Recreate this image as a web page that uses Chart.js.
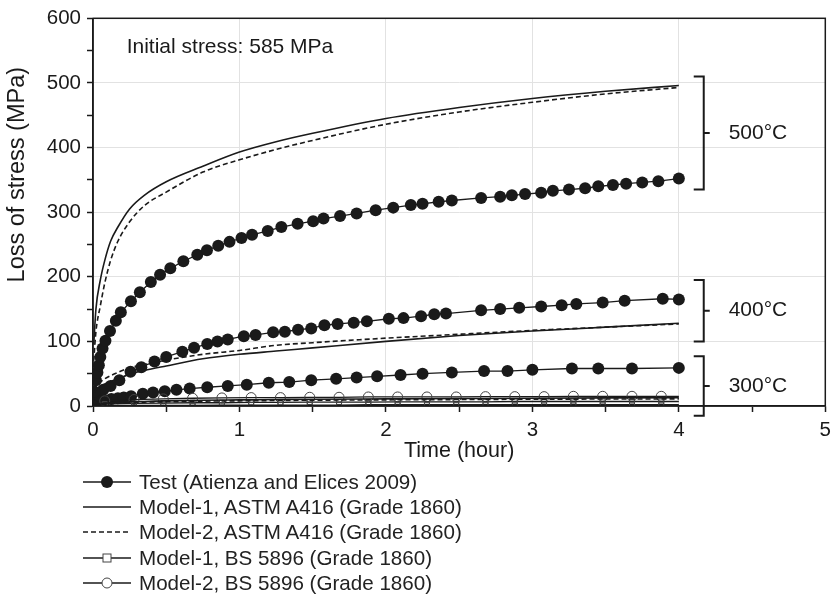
<!DOCTYPE html>
<html>
<head>
<meta charset="utf-8">
<script src="https://cdn.jsdelivr.net/npm/chart.js@4.4.1/dist/chart.umd.min.js"></script>
<style>
  body { margin: 0; background: #fff; font-family: "Liberation Sans", Arial, sans-serif; }
  #wrap { position: relative; width: 837px; height: 601px; }
  #legend { position: absolute; left: 83px; top: 469px; color: #222; font-size: 20.6px; }
  .legend-item { height: 25.4px; display: flex; align-items: center; white-space: nowrap; }
  .legend-item svg { margin-right: 8px; }
</style>
</head>
<body>
<div id="wrap">
  <canvas id="stressChart" width="837" height="601"></canvas>
  <div id="legend"></div>
</div>
<script>
  // Test data (Atienza and Elices 2009)
  var test500Time = [0, 0.01, 0.02, 0.03, 0.04, 0.05, 0.065, 0.085, 0.116, 0.156, 0.19, 0.259, 0.32, 0.395, 0.458, 0.528, 0.617, 0.712, 0.778, 0.855, 0.932, 1.014, 1.086, 1.193, 1.286, 1.397, 1.503, 1.574, 1.687, 1.8, 1.93, 2.05, 2.17, 2.25, 2.36, 2.45, 2.65, 2.78, 2.86, 2.95, 3.06, 3.14, 3.25, 3.36, 3.45, 3.55, 3.64, 3.75, 3.86, 4.0];
  var test500Loss = [0, 22, 40, 52, 63, 76, 89, 101, 116, 132, 145, 162, 176, 192, 203, 213, 224, 234, 241, 248, 254, 260, 265, 271, 277, 282, 286, 290, 294, 298, 303, 307, 311, 313, 316, 318, 322, 324, 326, 328, 330, 333, 335, 337, 340, 342, 344, 346, 348, 352];
  var test400Time = [0, 0.03, 0.07, 0.12, 0.18, 0.256, 0.33, 0.42, 0.5, 0.61, 0.69, 0.78, 0.85, 0.92, 1.03, 1.11, 1.23, 1.31, 1.4, 1.49, 1.58, 1.67, 1.78, 1.87, 2.02, 2.12, 2.24, 2.33, 2.41, 2.65, 2.78, 2.91, 3.06, 3.2, 3.3, 3.48, 3.63, 3.89, 4.0];
  var test400Loss = [0, 18, 25, 31, 40, 53, 60, 69, 76, 84, 90, 96, 100, 103, 108, 110, 114, 115, 118, 120, 125, 127, 129, 131, 135, 136, 139, 142, 143, 148, 150, 152, 154, 156, 158, 160, 163, 166, 165];
  var test300Time = [0, 0.02, 0.05, 0.08, 0.125, 0.17, 0.21, 0.26, 0.34, 0.41, 0.49, 0.57, 0.66, 0.78, 0.92, 1.05, 1.2, 1.34, 1.49, 1.66, 1.8, 1.94, 2.1, 2.25, 2.45, 2.67, 2.83, 3.0, 3.27, 3.45, 3.68, 4.0];
  var test300Loss = [0, 4, 7, 9, 11, 12, 13, 15, 19, 21, 23, 25, 27, 29, 31, 33, 36, 37, 40, 42, 44, 46, 48, 50, 52, 54, 54, 56, 58, 58, 58, 59];

  // ASTM A416 model curves
  var modelTime = [0.005, 0.02, 0.05, 0.08, 0.12, 0.17, 0.25, 0.35, 0.5, 0.75, 1, 1.25, 1.5, 2, 2.5, 3, 3.5, 4];
  var astm1_500 = [95, 150, 195, 225, 255, 277, 305, 326, 347, 371, 393, 409, 422, 445, 462, 476, 487, 496];
  var astm2_500 = [70, 115, 155, 190, 225, 255, 285, 310, 331, 362, 381, 397, 411, 436, 455, 470, 483, 493];
  var astm1_400 = [20, 25, 30, 34, 38, 42, 49, 55, 62, 73, 80, 85, 90, 100, 109, 116, 122, 128];
  var astm2_400 = [25, 30, 37, 42, 47, 52, 59, 64, 71, 80, 86, 94, 98, 105, 111, 117, 122, 127];
  var astm1_300 = [1, 2, 3, 4, 5, 5.5, 6.5, 7, 8, 9, 9.5, 10, 10.5, 11, 11.5, 12, 12.5, 13];
  var astm2_300 = [1, 2, 2.5, 3, 4, 4.5, 5, 6, 6.5, 7.5, 8, 8.5, 9, 9.5, 10, 10.5, 10.8, 11];

  // BS 5896 model curves
  var bsTime = [0.08, 0.28, 0.48, 0.68, 0.88, 1.08, 1.28, 1.48, 1.68, 1.88, 2.08, 2.28, 2.48, 2.68, 2.88, 3.08, 3.28, 3.48, 3.68, 3.88, 4.0];
  var bs1_300 = [3, 4, 4.5, 5, 5, 5.5, 5.5, 6, 6, 6, 6.5, 6.5, 6.5, 6.5, 7, 7, 7, 7, 7, 7, 7];
  var bs2_300 = [8, 10, 11, 12, 12.5, 13, 13, 13.5, 13.5, 14, 14, 14, 14, 14.5, 14.5, 14.5, 15, 15, 15, 15, 15];
  var bs1_low = [0.5, 1, 1, 1, 1.5, 1.5, 1.5, 1.5, 1.5, 2, 2, 2, 2, 2, 2, 2, 2, 2, 2, 2, 2];

  var temperatureLabels = ['500°C', '400°C', '300°C'];
  var bracketTop = [510, 195, 77];
  var bracketBottom = [335, 100, -15];

  function pairs(xs, ys) {
    return xs.map(function (x, i) { return { x: x, y: ys[i] }; });
  }

  var ink = '#1a1a1a';
  var fontFamily = '"Liberation Sans", Arial, sans-serif';

  function testSet(xs, ys) {
    return { data: pairs(xs, ys), borderColor: ink, backgroundColor: ink, borderWidth: 1.3,
      pointRadius: 6, pointHoverRadius: 6, pointBackgroundColor: ink, pointBorderWidth: 0, tension: 0 };
  }
  function modelSet(ys, dashed) {
    return { data: pairs(modelTime, ys), borderColor: ink, borderWidth: 1.6, borderDash: dashed ? [5, 3] : [],
      pointRadius: 0, cubicInterpolationMode: 'monotone' };
  }
  function bsSet(ys, style) {
    return { data: pairs(bsTime, ys), borderColor: ink, borderWidth: 1.3, pointStyle: style,
      pointRadius: function (c) { return c.dataIndex === bsTime.length - 1 ? 0 : (style === 'circle' ? 5 : 3.5); },
      pointBackgroundColor: 'rgba(255,255,255,0)', pointBorderColor: '#444', pointBorderWidth: 1, tension: 0 };
  }

  var datasets = [
    modelSet(astm1_500, false), modelSet(astm2_500, true),
    modelSet(astm1_400, false), modelSet(astm2_400, true),
    modelSet(astm1_300, false), modelSet(astm2_300, true),
    bsSet(bs1_low, 'rect'), bsSet(bs1_300, 'rect'), bsSet(bs2_300, 'circle'),
    testSet(test500Time, test500Loss), testSet(test400Time, test400Loss), testSet(test300Time, test300Loss)
  ];

  // frame, brackets, notes and the y axis title
  var annotations = {
    id: 'annotations',
    afterDraw: function (chart) {
      var ctx = chart.ctx, a = chart.chartArea, xs = chart.scales.x, ys = chart.scales.y;
      ctx.save();
      ctx.strokeStyle = ink;
      ctx.lineWidth = 1.5;
      ctx.strokeRect(a.left, a.top, a.right - a.left, a.bottom - a.top);

      ctx.fillStyle = ink;
      ctx.font = '21px ' + fontFamily;
      ctx.textBaseline = 'middle';
      ctx.fillText('Initial stress: 585 MPa', xs.getPixelForValue(0.23), ys.getPixelForValue(555));

      var bx = xs.getPixelForValue(4.17);
      ctx.lineWidth = 2;
      temperatureLabels.forEach(function (label, i) {
        var t = ys.getPixelForValue(bracketTop[i]), b = ys.getPixelForValue(bracketBottom[i]);
        var m = (t + b) / 2;
        ctx.beginPath();
        ctx.moveTo(bx - 10, t); ctx.lineTo(bx, t); ctx.lineTo(bx, b); ctx.lineTo(bx - 10, b);
        ctx.moveTo(bx, m); ctx.lineTo(bx + 6, m);
        ctx.stroke();
        ctx.fillText(label, xs.getPixelForValue(4.34), m);
      });

      // y title sits a bit above the middle of the axis
      ctx.translate(18, ys.getPixelForValue(358));
      ctx.rotate(-Math.PI / 2);
      ctx.textAlign = 'center';
      ctx.font = '23.5px ' + fontFamily;
      ctx.fillText('Loss of stress (MPa)', 0, 0);
      ctx.restore();
    }
  };

  new Chart(document.getElementById('stressChart'), {
    type: 'line',
    data: { datasets: datasets },
    plugins: [annotations],
    options: {
      responsive: false,
      animation: false,
      layout: { padding: { top: 16, right: 6, bottom: 135, left: 0 } },
      plugins: { legend: { display: false }, tooltip: { enabled: false } },
      scales: {
        x: {
          type: 'linear', min: 0, max: 5,
          afterFit: function (s) { s.height = 60; },
          ticks: { stepSize: 0.5, color: ink, padding: 6, maxRotation: 0, autoSkip: false,
            font: { family: fontFamily, size: 20.5 },
            callback: function (v) { return v % 1 === 0 ? v : ''; } },
          grid: { color: function (c) { return c.tick && c.tick.value % 1 === 0 ? '#e2e2e2' : 'rgba(0,0,0,0)'; },
            tickColor: ink, tickLength: 6, tickWidth: 1.5 },
          border: { color: ink, width: 1.5 },
          title: { display: true, text: 'Time (hour)', color: ink, font: { family: fontFamily, size: 21.5 }, padding: 2 }
        },
        y: {
          min: 0, max: 600,
          afterFit: function (s) { s.width = 93; },
          ticks: { stepSize: 50, color: ink, padding: 6,
            font: { family: fontFamily, size: 20.5 },
            callback: function (v) { return v % 100 === 0 ? v : ''; } },
          grid: { color: function (c) { return c.tick && c.tick.value % 100 === 0 ? '#e2e2e2' : 'rgba(0,0,0,0)'; },
            tickColor: ink, tickLength: 6, tickWidth: 1.5 },
          border: { color: ink, width: 1.5 }
        }
      }
    }
  });

  // legend
  var legendLabels = ['Test (Atienza and Elices 2009)', 'Model-1, ASTM A416 (Grade 1860)', 'Model-2, ASTM A416 (Grade 1860)',
    'Model-1, BS 5896 (Grade 1860)', 'Model-2, BS 5896 (Grade 1860)'];
  var legendMarks = ['dot', 'solid', 'dash', 'square', 'ring'];
  var legendContainer = document.getElementById('legend');
  legendLabels.forEach(function (label, i) {
    var mark = legendMarks[i];
    var line = '<line x1="0" y1="9" x2="48" y2="9" stroke="' + ink + '" stroke-width="1.5"' +
      (mark === 'dash' ? ' stroke-dasharray="5,3"' : '') + '/>';
    var sym = '';
    if (mark === 'dot') sym = '<circle cx="24" cy="9" r="6" fill="' + ink + '"/>';
    if (mark === 'square') sym = '<rect x="20" y="5" width="8" height="8" fill="#fff" stroke="#444"/>';
    if (mark === 'ring') sym = '<circle cx="24" cy="9" r="5" fill="#fff" stroke="#444"/>';
    var item = document.createElement('div');
    item.classList.add('legend-item');
    item.innerHTML = '<svg width="48" height="18">' + line + sym + '</svg><span>' + label + '</span>';
    legendContainer.appendChild(item);
  });
</script>
</body>
</html>
